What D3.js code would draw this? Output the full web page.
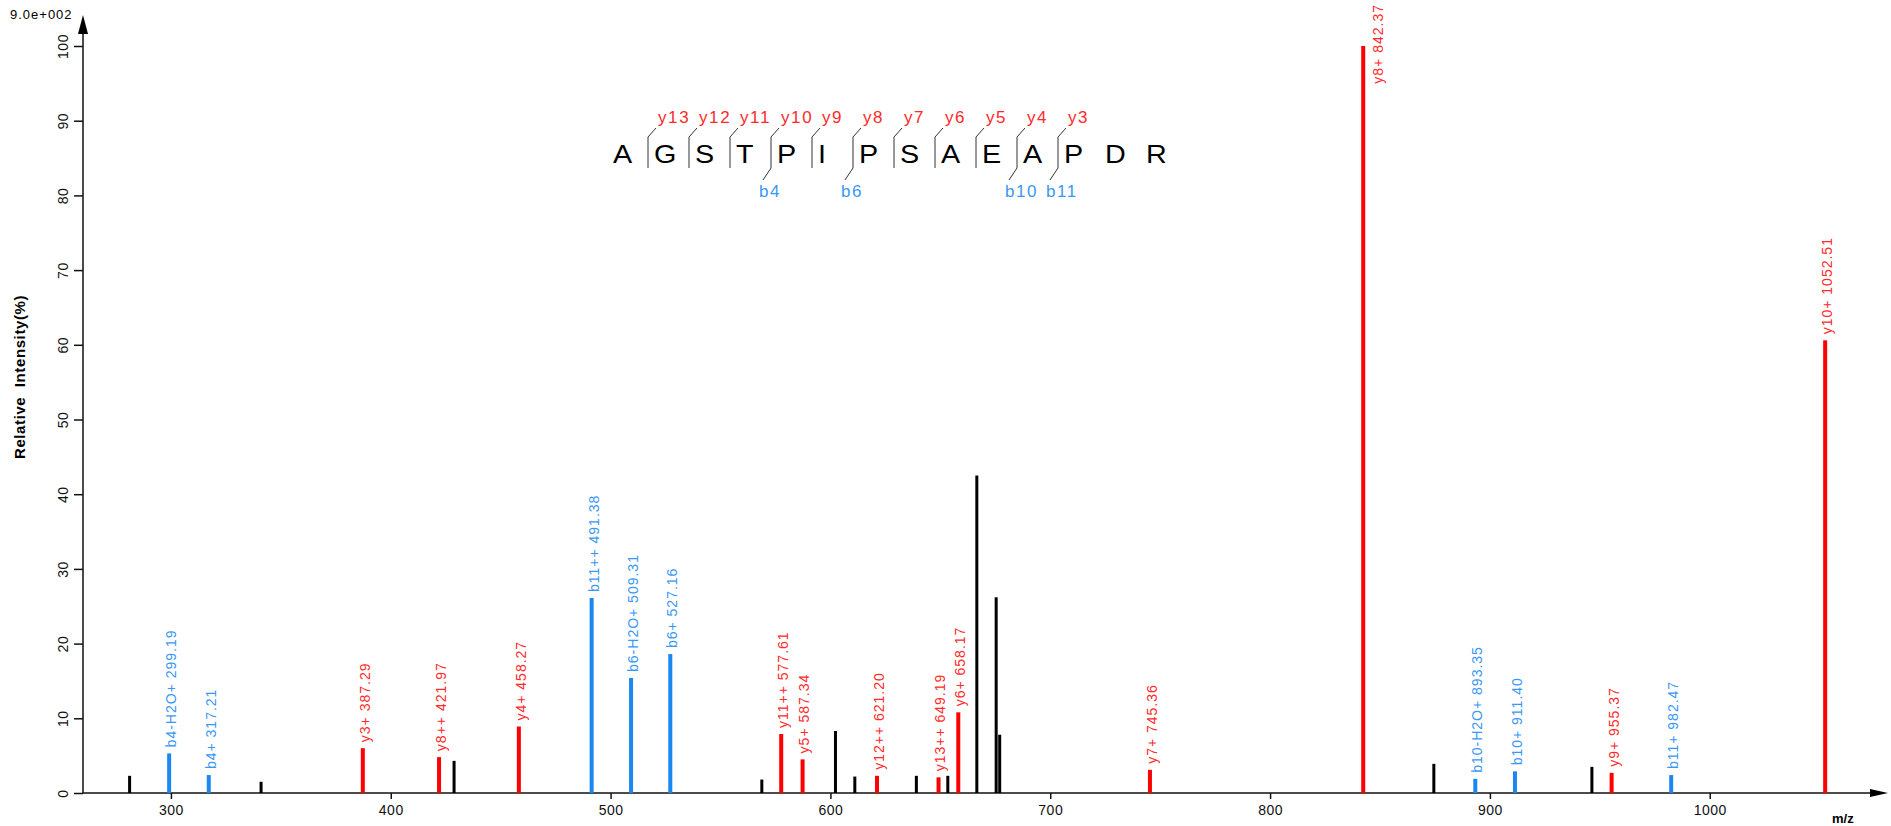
<!DOCTYPE html>
<html>
<head>
<meta charset="utf-8">
<script src="https://cdn.jsdelivr.net/npm/d3@7/dist/d3.min.js"></script>
<style>
body{margin:0;background:#fff}
svg text{font-family:"Liberation Sans",Arial,sans-serif}
</style>
</head>
<body>
<svg id="chart" width="1891" height="826"></svg>
<script>
// unmatched peaks (black)
let otherMz  = [281.2, 341.0, 428.8, 568.8, 602.3, 611.1, 639.1, 653.4, 666.6, 675.4, 677.0, 874.5, 946.4]
let otherInt = [2.3, 1.5, 4.3, 1.8, 8.3, 2.2, 2.3, 2.3, 42.5, 26.2, 7.8, 3.9, 3.5]

// b ions (blue)
let bNames = ["b4-H2O+", "b4+", "b11++", "b6-H2O+", "b6+", "b10-H2O+", "b10+", "b11+"]
let bMz    = [299.19, 317.21, 491.38, 509.31, 527.16, 893.35, 911.40, 982.47]
let bInt   = [5.3, 2.4, 26.1, 15.4, 18.6, 1.9, 2.9, 2.4]

// y ions (red)
let yNames = ["y3+", "y8++", "y4+", "y11++", "y5+", "y12++", "y13++", "y6+", "y7+", "y8+", "y9+", "y10+"]
let yMz    = [387.29, 421.97, 458.27, 577.61, 587.34, 621.20, 649.19, 658.17, 745.36, 842.37, 955.37, 1052.51]
let yInt   = [6.0, 4.8, 8.9, 7.9, 4.5, 2.3, 2.1, 10.8, 3.1, 100, 2.7, 60.6]

// peptide and observed cleavages
let sequence = "AGSTPIPSAEAPDR".split("")
let yCuts = [13, 12, 11, 10, 9, 8, 7, 6, 5, 4, 3]
let bCuts = [4, 6, 10, 11]

let xTicks = [300, 400, 500, 600, 700, 800, 900, 1000]
let yTicks = d3.range(0, 101, 10)

const RED = "#ff0000", BLUE = "#1a88f0", RED_TXT = "#ff2a2a", BLUE_TXT = "#3a98f5"

let svg = d3.select("#chart")

let x = d3.scaleLinear().domain([260, 1075]).range([83, 1874.6])
let y = d3.scaleLinear().domain([0, 100]).range([793, 46])

// axes
let gx = svg.append("g").attr("transform", `translate(0,${y(0)})`)
    .call(d3.axisBottom(x).tickValues(xTicks).tickSize(6).tickSizeOuter(0).tickFormat(d3.format("d")))
gx.select(".domain").remove()
gx.selectAll("text").attr("font-size", 14).attr("dy", "0.9em").attr("letter-spacing", 0.5).attr("fill", "#111")

let gy = svg.append("g").attr("transform", `translate(${x(260)},0)`)
    .call(d3.axisLeft(y).tickValues(yTicks).tickSize(9).tickSizeOuter(0))
gy.select(".domain").remove()
gy.selectAll(".tick text").remove()
gy.selectAll(".tick").append("text")
    .attr("transform", "translate(-20,0) rotate(-90)")
    .attr("text-anchor", "middle")
    .attr("dy", "0.35em")
    .attr("font-size", 14)
    .attr("letter-spacing", 0.5)
    .attr("fill", "#111")
    .text(d => d)
svg.selectAll(".tick line").attr("stroke", "#111").attr("stroke-width", 1.5)

let x0 = x(260), yb = y(0)
svg.append("line").attr("x1", x0).attr("x2", x0).attr("y1", yb).attr("y2", 30)
    .attr("stroke", "#111").attr("stroke-width", 1.5)
svg.append("path").attr("d", `M${x0},15 L${x0-5},34 L${x0+5},34 Z`).attr("fill", "#000")
svg.append("line").attr("x1", x0).attr("x2", 1874).attr("y1", yb).attr("y2", yb)
    .attr("stroke", "#111").attr("stroke-width", 1.5)
svg.append("path").attr("d", `M1888,${yb} L1870,${yb-4} L1870,${yb+4} Z`).attr("fill", "#000")

svg.append("text").attr("x", 10).attr("y", 19).attr("font-size", 13).attr("letter-spacing", 1)
    .text("9.0e+002")
svg.append("text").attr("transform", "translate(25,377) rotate(-90)")
    .attr("text-anchor", "middle").attr("font-size", 15).attr("font-weight", "bold")
    .attr("letter-spacing", 0.6).attr("xml:space", "preserve")
    .text("Relative  Intensity(%)")
svg.append("text").attr("x", 1832).attr("y", 823).attr("font-size", 13).attr("font-weight", "bold")
    .text("m/z")

// bars
function drawPeaks(mz, inten, color, width){
    let data = mz.map((m, i) => ({mz: m, v: inten[i]}))
    svg.append("g").selectAll("rect").data(data).enter().append("rect")
        .attr("x", d => x(d.mz) - width/2)
        .attr("width", width)
        .attr("y", d => y(d.v))
        .attr("height", d => y(0) - y(d.v))
        .attr("fill", color)
}
drawPeaks(otherMz, otherInt, "#000", 3)
drawPeaks(bMz, bInt, BLUE, 4)
drawPeaks(yMz, yInt, RED, 4)

// peak labels, rotated, above each bar (beside the bar when it hits the top)
function drawLabels(names, mz, inten, color){
    names.forEach((n, i) => {
        let t = svg.append("text")
            .attr("text-anchor", "start")
            .attr("dy", "0.35em")
            .attr("font-size", 14)
            .attr("letter-spacing", 1)
            .attr("fill", color)
            .text(n + " " + mz[i].toFixed(2))
        let len = t.node().getComputedTextLength()
        let px = x(mz[i]) + 2, py = y(inten[i]) - 6
        if (py - len < 4) { px = x(mz[i]) + 15; py = 4 + len }
        t.attr("transform", `translate(${px},${py}) rotate(-90)`)
    })
}
drawLabels(bNames, bMz, bInt, BLUE_TXT)
drawLabels(yNames, yMz, yInt, RED_TXT)

// peptide annotation
let seqLeft = 607, slot = 41
let n = sequence.length
let pep = svg.append("g")
pep.selectAll("text.res").data(sequence).enter().append("text")
    .attr("class", "res")
    .attr("x", (d, i) => seqLeft + slot*i + 6)
    .attr("y", 163)
    .attr("font-size", 25)
    .attr("transform-origin", (d, i) => `${seqLeft + slot*i + 6}px 163px`)
    .attr("transform", "scale(1.15,1)")
    .attr("fill", "#000")
    .text(d => d)

let cuts = d3.range(1, n)
let sepX = k => seqLeft + slot*k
cuts.forEach(k => {
    let hasY = yCuts.includes(n - k), hasB = bCuts.includes(k)
    if (!hasY && !hasB) return
    let sx = sepX(k)
    pep.append("line").attr("x1", sx).attr("x2", sx).attr("y1", 137).attr("y2", 168)
        .attr("stroke", "#333").attr("stroke-width", 1)
    if (hasY) {
        pep.append("line").attr("x1", sx).attr("y1", 137).attr("x2", sx + 8).attr("y2", 128)
            .attr("stroke", "#333").attr("stroke-width", 1)
        pep.append("text").attr("x", sx + 10).attr("y", 123)
            .attr("font-size", 17).attr("letter-spacing", 1.6).attr("fill", RED_TXT)
            .text("y" + (n - k))
    }
    if (hasB) {
        pep.append("line").attr("x1", sx).attr("y1", 168).attr("x2", sx - 8).attr("y2", 180)
            .attr("stroke", "#333").attr("stroke-width", 1)
        pep.append("text").attr("x", sx - 12).attr("y", 197)
            .attr("font-size", 17).attr("letter-spacing", 1.6).attr("fill", BLUE_TXT)
            .text("b" + k)
    }
})
</script>
</body>
</html>
